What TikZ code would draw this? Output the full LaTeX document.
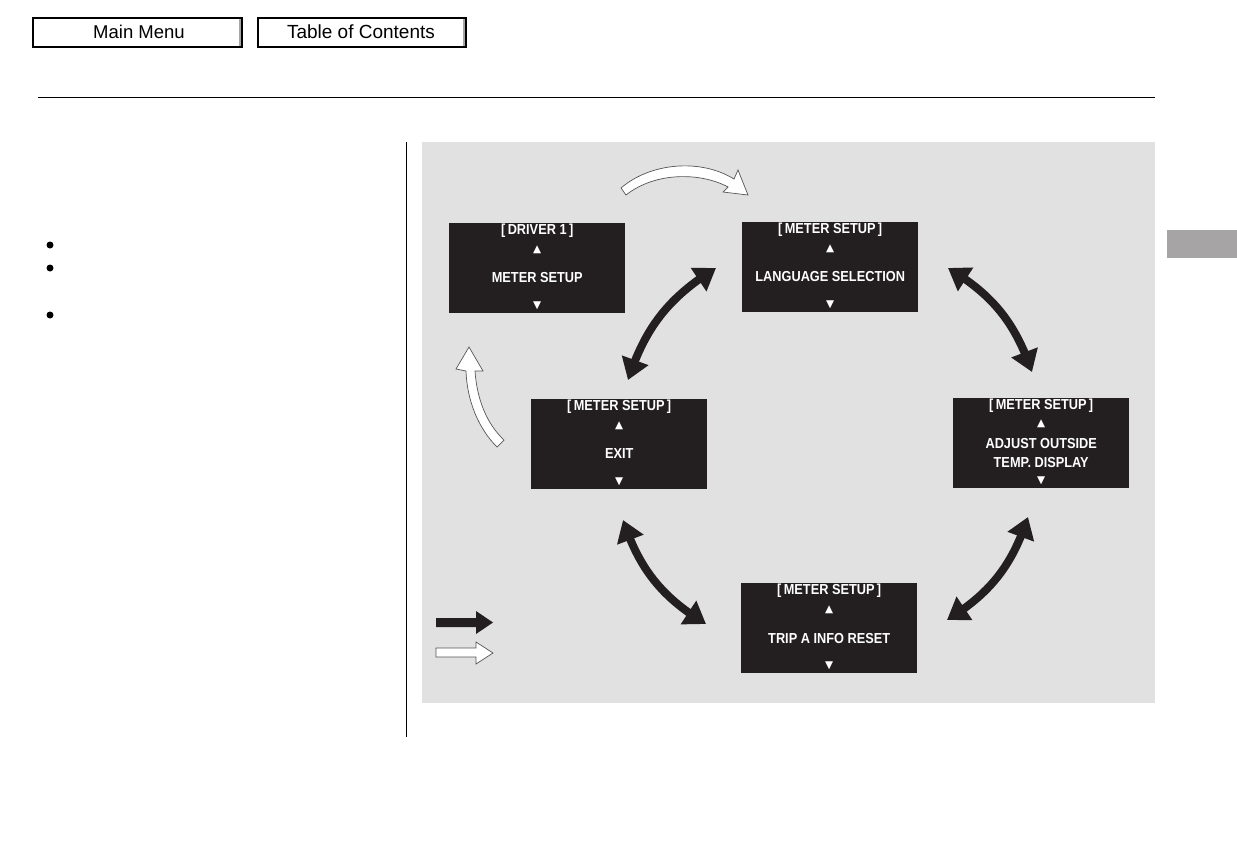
\documentclass[tikz,border=0pt]{standalone}
\usepackage{fontspec}
\setmainfont{Liberation Sans}
\newfontfamily\lcdfont[FakeStretch=0.88]{Liberation Sans}
\newfontfamily\symfont{DejaVu Sans}
\usetikzlibrary{arrows.meta,bending}
\definecolor{scrblack}{HTML}{231F20}
\definecolor{panelgray}{HTML}{E1E1E1}
\definecolor{tabgray}{HTML}{A6A4A4}
\definecolor{outl}{HTML}{555555}
\begin{document}
\begin{tikzpicture}[x=1pt,y=-1pt,
  screen/.style={fill=scrblack, draw=none, minimum width=176pt, minimum height=90pt, inner sep=0pt, anchor=north west},
  lcd/.style={text=white, font=\lcdfont\bfseries\fontsize{14.5}{15}\selectfont, inner sep=0pt},
  tri/.style={text=white, font=\symfont\fontsize{10.5}{11}\selectfont, inner sep=0pt},
  dbl/.style={line width=8pt, draw=scrblack, {Triangle[length=21pt,width=27pt]}-{Triangle[length=21pt,width=27pt]}},
  whitearrow/.style={fill=white, draw=outl, line width=0.7pt, line join=miter},
  btn/.style={draw=black, line width=1.6pt, fill=white, anchor=north west, inner sep=0pt},
  bullet/.style={circle, fill=black, inner sep=0pt, minimum size=7pt}
]
\useasboundingbox (0,0) rectangle (1237,860);
\fill[white] (0,0) rectangle (1237,860);

% top buttons
\node[btn, minimum width=209pt, minimum height=29pt] (mainmenu) at (32,17) {};
\draw[gray!70, line width=2pt] ([xshift=-2.5pt,yshift=-1.5pt]mainmenu.north east) -- ([xshift=-2.5pt,yshift=1.5pt]mainmenu.south east);
\node[font=\fontsize{18.5}{20}\selectfont] (mmtext) at (139,32) {Main Menu};
\node[btn, minimum width=208pt, minimum height=29pt] (toc) at (257,17) {};
\draw[gray!70, line width=2pt] ([xshift=-2.5pt,yshift=-1.5pt]toc.north east) -- ([xshift=-2.5pt,yshift=1.5pt]toc.south east);
\node[font=\fontsize{19}{20}\selectfont] (toctext) at (361,32) {Table of Contents};

% rules
\coordinate (hl1) at (38,97);
\coordinate (hl2) at (1155,97);
\draw[line width=1pt] (hl1) -- (hl2);
\coordinate (vl1) at (406,142);
\coordinate (vl2) at (406,737);
\draw[line width=1pt] (vl1) -- (vl2);

% bullets
\node[bullet] (b1) at (50,245) {};
\node[bullet] (b2) at (50,268) {};
\node[bullet] (b3) at (50,315) {};

% side tab
\fill[tabgray] (1167,230) rectangle (1237,258);

% panel
\fill[panelgray] (422,142) rectangle (1155,703);

% screens
\node[screen] (drv) at (449,223) {};
\node[lcd] at ([yshift=-8pt]drv.north) {[\,DRIVER 1\,]};
\node[tri] at ([yshift=-27pt]drv.north) {▲};
\node[lcd] at ([yshift=-55pt]drv.north) {METER SETUP};
\node[tri] at ([yshift=-83pt]drv.north) {▼};

\node[screen] (lang) at (742,222) {};
\node[lcd] at ([yshift=-8pt]lang.north) {[\,METER SETUP\,]};
\node[tri] at ([yshift=-27pt]lang.north) {▲};
\node[lcd] at ([yshift=-55pt]lang.north) {LANGUAGE SELECTION};
\node[tri] at ([yshift=-83pt]lang.north) {▼};

\node[screen] (exit) at (531,399) {};
\node[lcd] at ([yshift=-8pt]exit.north) {[\,METER SETUP\,]};
\node[tri] at ([yshift=-27pt]exit.north) {▲};
\node[lcd] at ([yshift=-55pt]exit.north) {EXIT};
\node[tri] at ([yshift=-83pt]exit.north) {▼};

\node[screen] (adj) at (953,398) {};
\node[lcd] at ([yshift=-8pt]adj.north) {[\,METER SETUP\,]};
\node[tri] at ([yshift=-26pt]adj.north) {▲};
\node[lcd] at ([yshift=-46pt]adj.north) {ADJUST OUTSIDE};
\node[lcd] at ([yshift=-65pt]adj.north) {TEMP. DISPLAY};
\node[tri] at ([yshift=-83pt]adj.north) {▼};

\node[screen] (trip) at (741,583) {};
\node[lcd] at ([yshift=-8pt]trip.north) {[\,METER SETUP\,]};
\node[tri] at ([yshift=-27pt]trip.north) {▲};
\node[lcd] at ([yshift=-55pt]trip.north) {TRIP A INFO RESET};
\node[tri] at ([yshift=-83pt]trip.north) {▼};

% black double arrows
\coordinate (lx1) at (716,268);
\coordinate (lx2) at (628,380);
\draw[dbl] (lx1) to[bend right=20] (lx2);
\coordinate (la1) at (948,268);
\coordinate (la2) at (1032,372);
\draw[dbl] (la1) to[bend left=20] (la2);
\coordinate (at1) at (1028,517);
\coordinate (at2) at (947,620);
\draw[dbl] (at1) to[bend left=20] (at2);
\coordinate (et1) at (623,520);
\coordinate (et2) at (706,624);
\draw[dbl] (et1) to[bend right=20] (et2);

% white curved arrows
\draw[whitearrow] (621,188) .. controls (650,163) and (700,158) .. (734,179)
  -- (738,170) -- (748,195) -- (723,192) -- (728,187)
  .. controls (700,172) and (655,172) .. (626,195) -- cycle;
\draw[whitearrow] (469,347) -- (483,371) -- (475,371)
  .. controls (477,400) and (487,424) .. (504,440) -- (497,447)
  .. controls (478,428) and (467,400) .. (466,371) -- (456,369) -- cycle;

% legend arrows
\fill[scrblack] (436,618) -- (476,618) -- (476,611) -- (493,622.5) -- (476,634) -- (476,627) -- (436,627) -- cycle;
\draw[whitearrow] (436,648) -- (476,648) -- (476,642) -- (493,653) -- (476,664) -- (476,657) -- (436,657) -- cycle;
\end{tikzpicture}
\end{document}
